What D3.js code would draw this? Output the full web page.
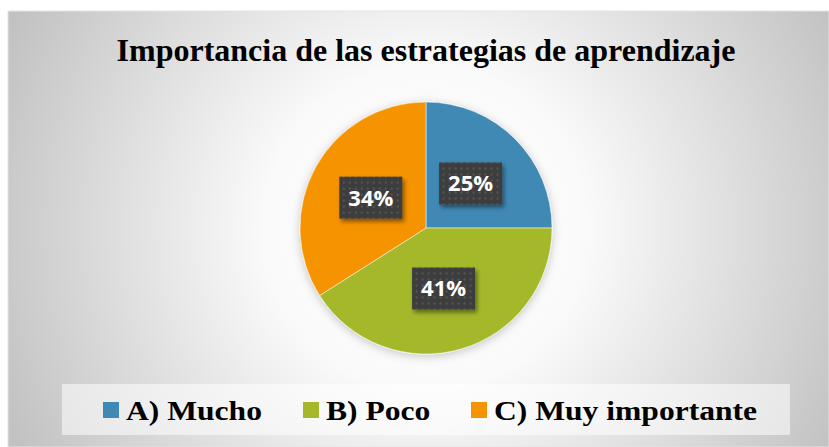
<!DOCTYPE html>
<meta charset="utf-8">
<script src="https://d3js.org/d3.v7.min.js"></script>
<style>
  body { margin: 0; background: #fff; }
</style>
<div id="my_dataviz"></div>
<script>
// data
const categories = ["A) Mucho", "B) Poco", "C) Muy importante"];
const values = [25, 41, 34];
const pctLabels = ["25%", "41%", "34%"];
const colors = ["#3F89B5", "#A5B82A", "#F59300"];

const W = 829, H = 447;
const cx = 426, cy = 228, R = 126;

const svg = d3.select("#my_dataviz")
  .append("svg")
  .attr("width", W)
  .attr("height", H);

const defs = svg.append("defs");

// background radial gradient
const bg = defs.append("radialGradient")
  .attr("id", "bg")
  .attr("gradientUnits", "userSpaceOnUse")
  .attr("cx", cx).attr("cy", cy).attr("r", 460);
bg.append("stop").attr("offset", "0%").attr("stop-color", "#ffffff");
bg.append("stop").attr("offset", "35%").attr("stop-color", "#fafafa");
bg.append("stop").attr("offset", "100%").attr("stop-color", "#c2c2c2");

// pie shadow
const sh = defs.append("filter").attr("id", "pieShadow")
  .attr("x", "-20%").attr("y", "-20%").attr("width", "140%").attr("height", "140%");
sh.append("feDropShadow").attr("dx", 0).attr("dy", 2).attr("stdDeviation", 5)
  .attr("flood-color", "#000").attr("flood-opacity", 0.22);

const bsh = defs.append("filter").attr("id", "boxShadow")
  .attr("x", "-30%").attr("y", "-30%").attr("width", "160%").attr("height", "160%");
bsh.append("feDropShadow").attr("dx", 2).attr("dy", 3).attr("stdDeviation", 2)
  .attr("flood-color", "#000").attr("flood-opacity", 0.45);

// dotted pattern of the label boxes
const pat = defs.append("pattern").attr("id", "dots")
  .attr("patternUnits", "userSpaceOnUse").attr("width", 6).attr("height", 6);
pat.append("rect").attr("width", 6).attr("height", 6).attr("fill", "#3e3e3e");
pat.append("rect").attr("x", 2).attr("y", 2).attr("width", 2).attr("height", 2).attr("fill", "#555555");

// chart frame
svg.append("rect")
  .attr("x", 8).attr("y", 11)
  .attr("width", W - 8).attr("height", H - 11)
  .attr("fill", "url(#bg)")
  .attr("stroke", "#e4e4e4").attr("stroke-width", 1);

// title
svg.append("text")
  .attr("x", cx).attr("y", 61)
  .attr("text-anchor", "middle")
  .style("font-family", "'Liberation Serif', 'Times New Roman', serif")
  .style("font-weight", "bold")
  .style("font-size", "32px")
  .text("Importancia de las estrategias de aprendizaje");

// pie
const pie = d3.pie().sort(null).value(d => d)(values);
const arc = d3.arc().innerRadius(0).outerRadius(R);
const labelArc = d3.arc().innerRadius(0).outerRadius(R);

const g = svg.append("g").attr("transform", `translate(${cx},${cy})`);

g.append("g").attr("filter", "url(#pieShadow)")
  .selectAll("path")
  .data(pie)
  .join("path")
    .attr("d", arc)
    .attr("fill", (d, i) => colors[i])
    .attr("stroke", "#ffffff")
    .attr("stroke-width", 0.5);

// labels
const bw = 63, bh = 42;
const lab = g.selectAll(".lab")
  .data(pie)
  .join("g")
    .attr("class", "lab")
    .attr("transform", d => {
      const [x, y] = labelArc.centroid(d);
      return `translate(${x},${y})`;
    });

lab.append("rect")
  .attr("x", -bw / 2).attr("y", -bh / 2)
  .attr("width", bw).attr("height", bh)
  .attr("fill", "url(#dots)")
  .attr("filter", "url(#boxShadow)");

lab.append("text")
  .attr("text-anchor", "middle")
  .attr("dy", "0.36em")
  .style("font-family", "'Open Sans', sans-serif")
  .style("font-weight", "bold")
  .style("font-size", "22px")
  .attr("fill", "#ffffff")
  .text((d, i) => pctLabels[i]);

// legend
svg.append("rect")
  .attr("x", 62).attr("y", 384)
  .attr("width", 728).attr("height", 51)
  .attr("fill", "#ffffff").attr("fill-opacity", 0.55);

const legX = [103, 303, 471];
const leg = svg.selectAll(".leg")
  .data(categories)
  .join("g")
    .attr("class", "leg")
    .attr("transform", (d, i) => `translate(${legX[i]},402)`);

leg.append("rect")
  .attr("width", 16).attr("height", 16)
  .attr("fill", (d, i) => colors[i]);

// legend text is drawn a bit wider than normal in the original
leg.append("text")
  .attr("transform", "translate(23,18) scale(1.17,1)")
  .style("font-family", "'Liberation Serif', 'Times New Roman', serif")
  .style("font-weight", "bold")
  .style("font-size", "27px")
  .text(d => d);
</script>
